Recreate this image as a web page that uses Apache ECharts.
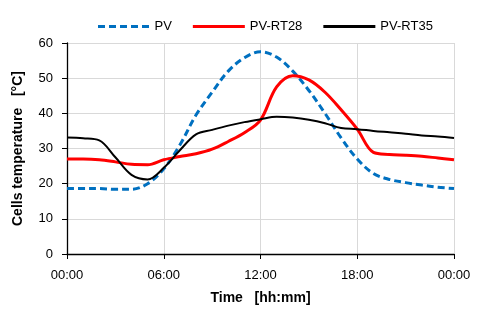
<!DOCTYPE html>
<html><head><meta charset="utf-8">
<script src="https://cdn.jsdelivr.net/npm/echarts@6/dist/echarts.min.js"></script>
<style>html,body{margin:0;padding:0;background:#fff}#c{width:480px;height:310px}</style>
</head><body><div id="c"></div>
<script>
const hours = [0,1,2,3,4,5,6,7,8,9,10,11,12,13,14,15,16,17,18,19,20,21,22,23,24];
const pv     = [18.6,18.6,18.6,18.4,18.4,20.0,24.2,31.0,39.5,46.0,52.0,55.8,57.5,56.0,52.0,46.5,40.0,33.0,27.0,22.9,21.2,20.3,19.6,19.0,18.6];
const pvRT28 = [27.0,27.0,26.8,26.2,25.5,25.4,26.8,27.7,28.5,29.8,32.0,34.5,38.1,47.5,50.7,49.5,46.0,41.0,35.5,28.9,28.3,28.1,27.8,27.3,26.8];
const pvRT35 = [33.1,32.9,32.3,27.5,22.5,21.2,24.5,29.5,34.0,35.3,36.5,37.5,38.3,39.0,38.8,38.2,37.2,35.8,35.5,35.0,34.6,34.2,33.7,33.4,33.0];
const seriesNames = ['PV','PV-RT28','PV-RT35'];
const yTicks = [0,10,20,30,40,50,60];
const xName = 'Time   [hh:mm]';
const yName = 'Cells temperature   [°C]';

const font = 'Liberation Sans, Arial, sans-serif';
const pair = arr => hours.map((h,i)=>[h,arr[i]]);
const dashIcon = 'path://M0,0h7v3h-7zM11,0h7v3h-7zM22,0h7v3h-7zM33,0h7v3h-7zM44,0h7v3h-7z';
const solidIcon = 'path://M0,0h52v3h-52z';
const chart = echarts.init(document.getElementById('c'), null, {renderer:'canvas'});
chart.setOption({
  animation:false,
  grid:{left:67,right:26,top:43,bottom:55},
  legend:{
    top:15,left:93,itemWidth:52,itemHeight:3,itemGap:21,
    textStyle:{fontFamily:font,fontSize:13,color:'#000'},
    data:[
      {name:seriesNames[0],icon:dashIcon},
      {name:seriesNames[1],icon:solidIcon},
      {name:seriesNames[2],icon:solidIcon}
    ]
  },
  xAxis:{
    type:'value',min:0,max:24,interval:6,
    name:xName,nameLocation:'middle',nameGap:37,
    nameTextStyle:{fontFamily:font,fontSize:14,fontWeight:'bold',color:'#000'},
    axisLine:{lineStyle:{color:'#000',width:1.3}},
    axisTick:{show:true,length:5,lineStyle:{color:'#000'}},
    axisLabel:{fontFamily:font,fontSize:13,color:'#000',margin:15,
      formatter:v=>{const h=v%24;return (h<10?'0':'')+h+':00';}},
    splitLine:{show:true,lineStyle:{color:'#d9d9d9',width:1}}
  },
  yAxis:{
    type:'value',min:yTicks[0],max:yTicks[yTicks.length-1],interval:10,
    name:yName,nameLocation:'middle',nameGap:42,
    nameTextStyle:{fontFamily:font,fontSize:14,fontWeight:'bold',color:'#000'},
    axisLine:{show:true,lineStyle:{color:'#000',width:1.3}},
    axisTick:{show:true,length:5,lineStyle:{color:'#000'}},
    axisLabel:{fontFamily:font,fontSize:13,color:'#000',margin:14},
    splitLine:{show:true,lineStyle:{color:'#d9d9d9',width:1}}
  },
  series:[
    {name:seriesNames[0],type:'line',data:pair(pv),smooth:0.35,showSymbol:false,symbol:'none',
     lineStyle:{color:'#0070C0',width:3,type:[7,4]},itemStyle:{color:'#0070C0'}},
    {name:seriesNames[1],type:'line',data:pair(pvRT28),smooth:0.35,showSymbol:false,symbol:'none',
     lineStyle:{color:'#FF0000',width:3},itemStyle:{color:'#FF0000'}},
    {name:seriesNames[2],type:'line',data:pair(pvRT35),smooth:0.35,showSymbol:false,symbol:'none',
     lineStyle:{color:'#000',width:2},itemStyle:{color:'#000'}}
  ]
});
</script></body></html>
